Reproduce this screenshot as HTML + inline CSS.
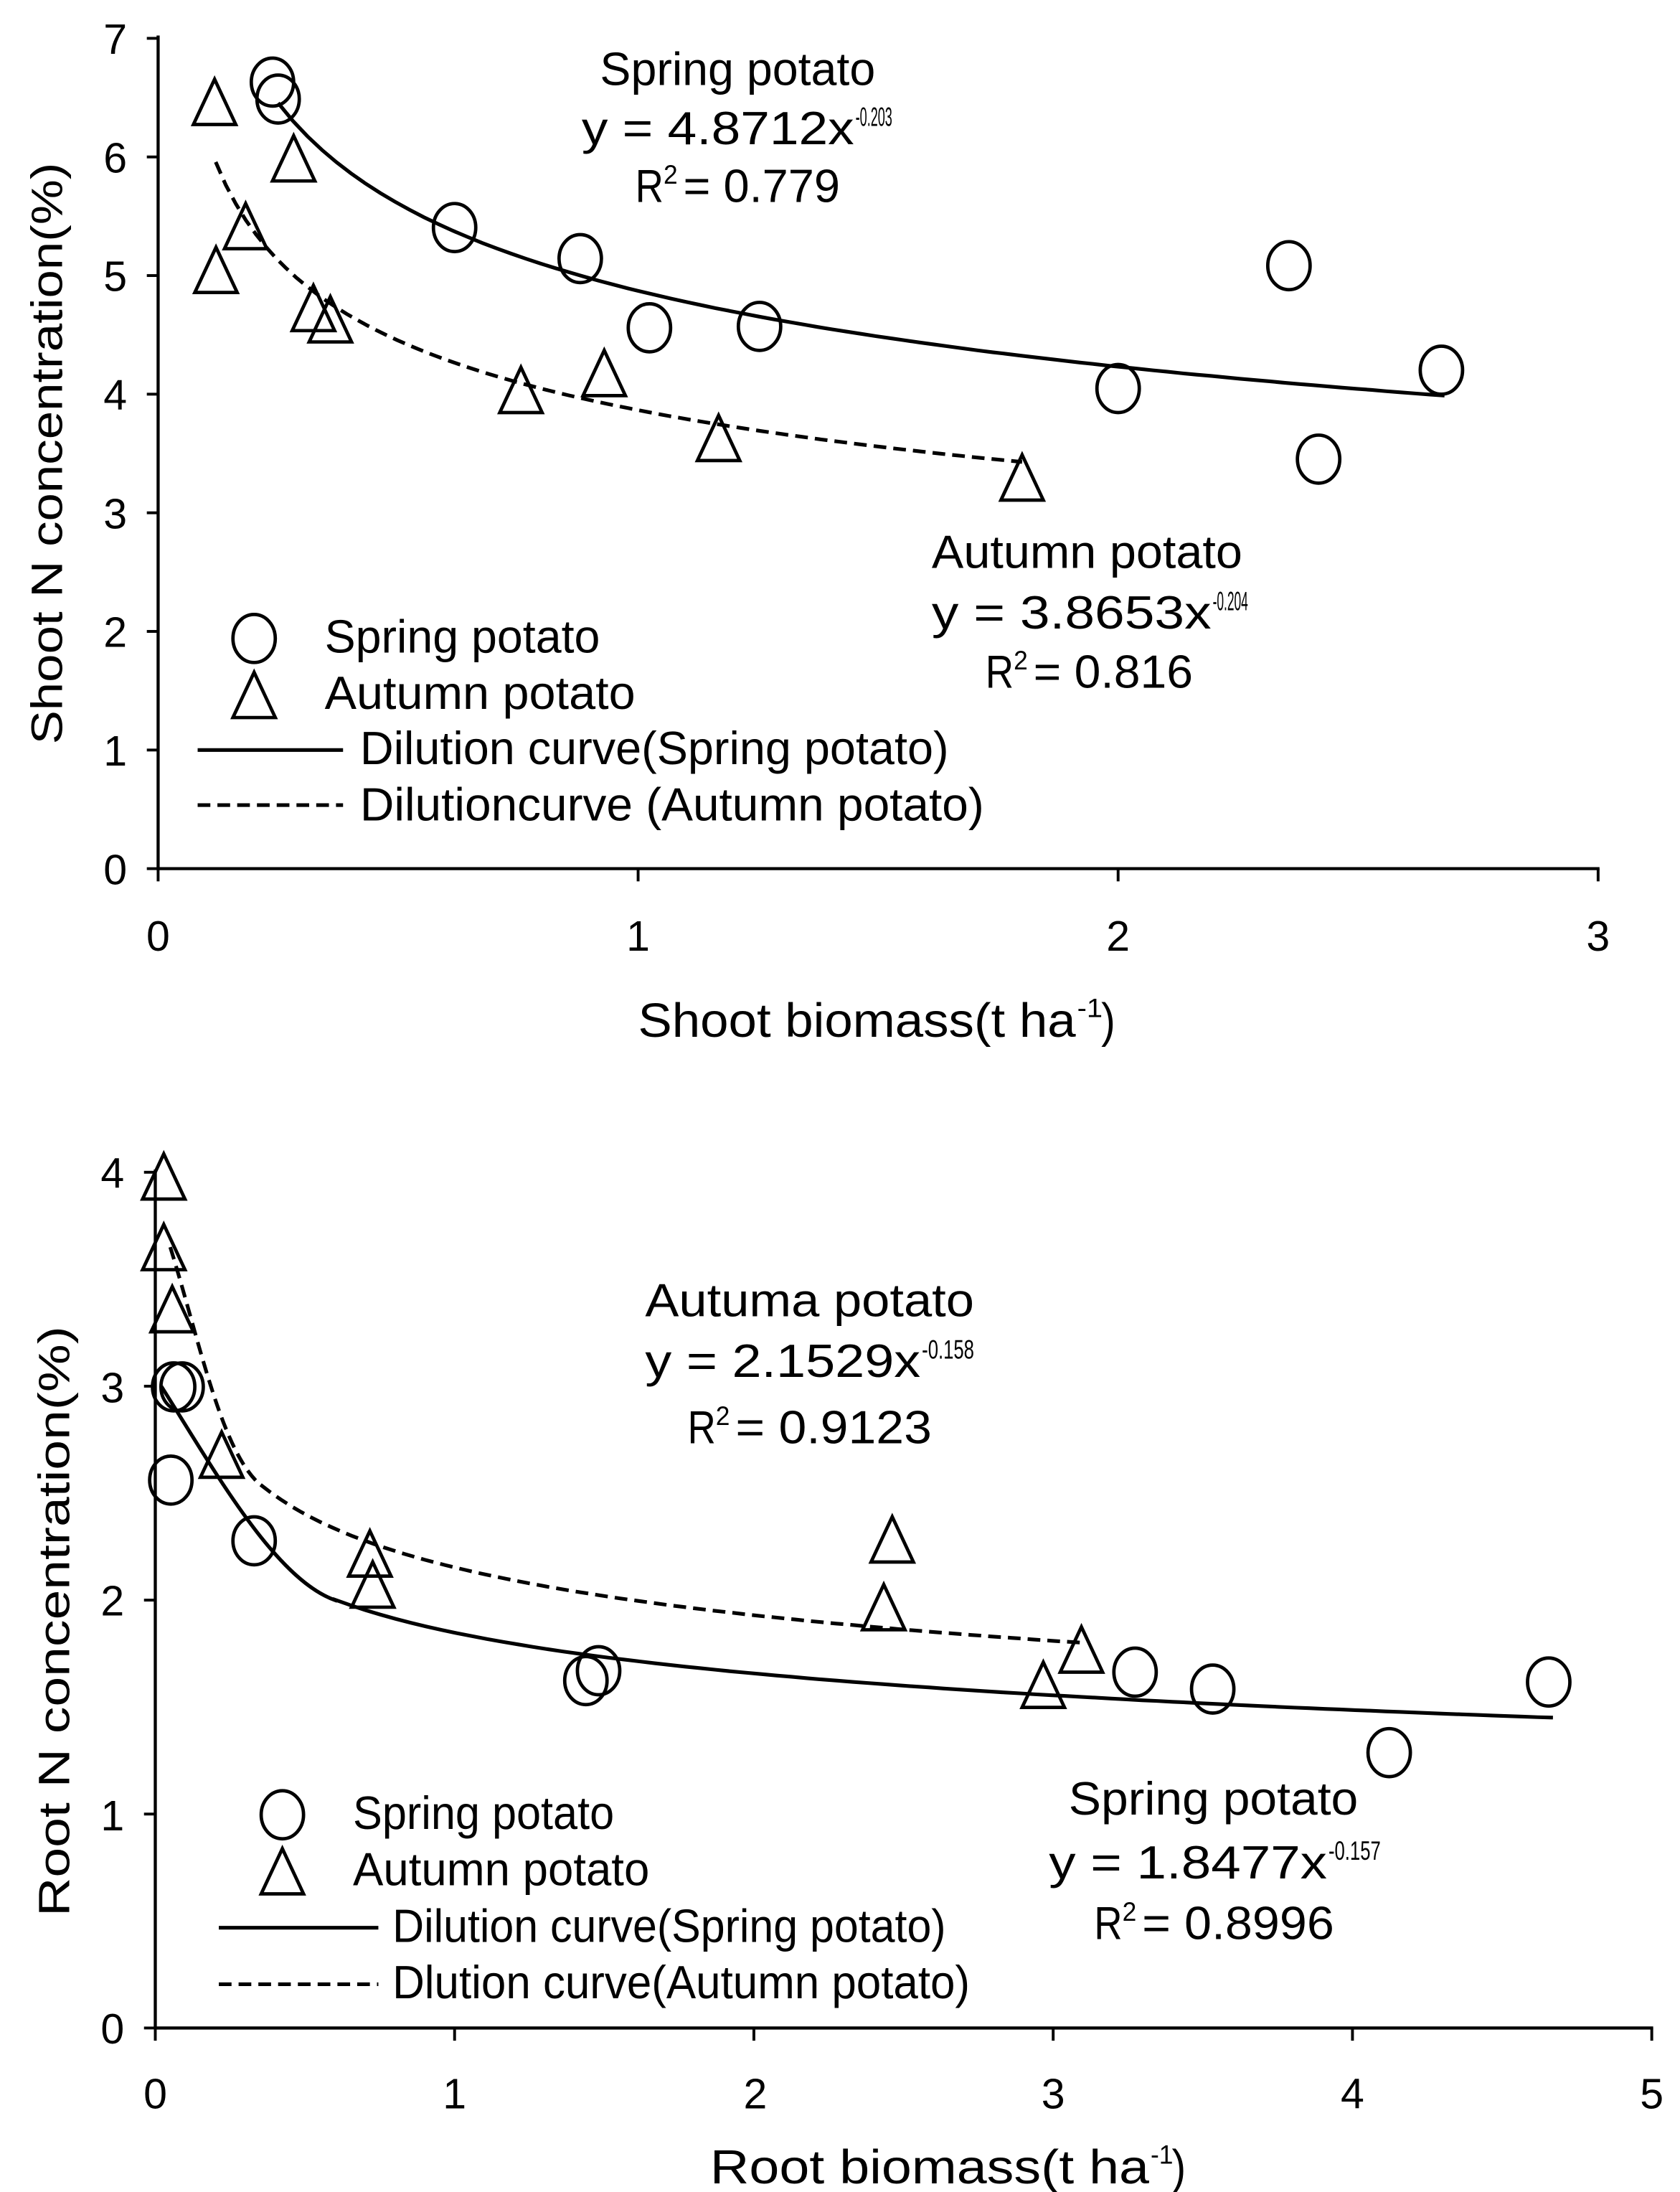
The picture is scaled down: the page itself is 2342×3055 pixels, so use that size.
<!DOCTYPE html>
<html><head><meta charset="utf-8"><style>
html,body{margin:0;padding:0;background:#fff}
svg{display:block}
text{font-family:"Liberation Sans",sans-serif;fill:#000}
</style></head><body>
<svg id="s" width="2342" height="3055" viewBox="0 0 1190 1552" xmlns="http://www.w3.org/2000/svg">
<g stroke="#000" stroke-width="2.2" fill="none">
<line x1="112" y1="25" x2="112" y2="616"/>
<line x1="111" y1="615" x2="1133" y2="615"/>
<line x1="110" y1="828" x2="110" y2="1437"/>
<line x1="109" y1="1436" x2="1171" y2="1436"/>
</g>
<g id="ticks" stroke="#000" stroke-width="2"></g>
<g font-size="30" lengthAdjust="spacingAndGlyphs">
<text x="90" y="38" text-anchor="end">7</text>
<text x="90" y="122" text-anchor="end">6</text>
<text x="90" y="206" text-anchor="end">5</text>
<text x="90" y="290" text-anchor="end">4</text>
<text x="90" y="374" text-anchor="end">3</text>
<text x="90" y="458" text-anchor="end">2</text>
<text x="90" y="542" text-anchor="end">1</text>
<text x="90" y="626" text-anchor="end">0</text>
<text x="112" y="673" text-anchor="middle">0</text>
<text x="452" y="673" text-anchor="middle">1</text>
<text x="792" y="673" text-anchor="middle">2</text>
<text x="1132" y="673" text-anchor="middle">3</text>
<text x="88" y="841" text-anchor="end">4</text>
<text x="88" y="993" text-anchor="end">3</text>
<text x="88" y="1144" text-anchor="end">2</text>
<text x="88" y="1296" text-anchor="end">1</text>
<text x="88" y="1447" text-anchor="end">0</text>
<text x="110" y="1493" text-anchor="middle">0</text>
<text x="322" y="1493" text-anchor="middle">1</text>
<text x="535" y="1493" text-anchor="middle">2</text>
<text x="746" y="1493" text-anchor="middle">3</text>
<text x="958" y="1493" text-anchor="middle">4</text>
<text x="1170" y="1493" text-anchor="middle">5</text>
</g>
<g font-size="34">
<text x="452" y="734" textLength="310" lengthAdjust="spacingAndGlyphs">Shoot biomass(t ha</text>
<text x="763" y="720" font-size="19" textLength="18" lengthAdjust="spacingAndGlyphs">-1</text>
<text x="780" y="734" textLength="10" lengthAdjust="spacingAndGlyphs">)</text>
<text x="503" y="1546" textLength="311" lengthAdjust="spacingAndGlyphs">Root biomass(t ha</text>
<text x="815" y="1532" font-size="19" textLength="16" lengthAdjust="spacingAndGlyphs">-1</text>
<text x="830" y="1546" textLength="10" lengthAdjust="spacingAndGlyphs">)</text>
</g>
<g font-size="31">
<text transform="translate(44,321) rotate(-90)" text-anchor="middle" textLength="412" lengthAdjust="spacingAndGlyphs">Shoot N concentration(%)</text>
<text transform="translate(49,1148) rotate(-90)" text-anchor="middle" textLength="418" lengthAdjust="spacingAndGlyphs">Root N concentration(%)</text>
</g>
<g id="lab" font-size="33"></g>
<g stroke="#000" stroke-width="2.6" fill="none">
<line x1="140" y1="531" x2="243" y2="531"/>
<line x1="140" y1="570" x2="243" y2="570" stroke-dasharray="9,5"/>
<line x1="155" y1="1365" x2="268" y2="1365"/>
<line x1="155" y1="1405" x2="268" y2="1405" stroke-dasharray="9,5"/>
<path id="c1"/><path id="c2" stroke-dasharray="9,5"/>
<path id="c3"/><path id="c4" stroke-dasharray="9,5"/>
</g>
<g id="m" stroke="#000" stroke-width="2.4" fill="none"></g>
</svg>
<script>
var NS="http://www.w3.org/2000/svg";
function el(t,a,p,txt){var e=document.createElementNS(NS,t);for(var k in a)e.setAttribute(k,a[k]);if(txt!==undefined)e.textContent=txt;document.getElementById(p).appendChild(e);return e;}
function T(x,y,w,s,fs){var a={x:x,y:y,textLength:w,lengthAdjust:'spacingAndGlyphs'};if(fs)a['font-size']=fs;el('text',a,'lab',s);}
// labels: [x1,x2,baseline,text]
[[425,620,60,'Spring potato'],[450,595,143,'R'],[660,880,402,'Autumn potato'],[457,690,932,'Autuma potato'],[757,962,1285,'Spring potato'],
 [230,425,462,'Spring potato'],[230,450,502,'Autumn potato'],[255,672,541,'Dilution curve(Spring potato)'],[255,697,581,'Dilutioncurve (Autumn potato)'],
 [250,435,1295,'Spring potato'],[250,460,1335,'Autumn potato'],[278,670,1375,'Dilution curve(Spring potato)'],[278,687,1415,'Dlution curve(Autumn potato)']
].forEach(function(a){if(a[3]!=='R')T(a[0],a[2],a[1]-a[0],a[3]);});
// equations
function eq(x,xe,xs,y,main,sup){T(x,y,xe-x,main);T(xe+1,y-13,xs-xe-1,sup,19);}
eq(412,605,632,102,'y = 4.8712x','-0.203');
eq(660,858,884,445,'y = 3.8653x','-0.204');
eq(457,652,690,975,'y = 2.1529x','-0.158');
eq(743,940,978,1330,'y = 1.8477x','-0.157');
function r2(x,xe,y,val){T(x,y,20,'R');T(x+20,y-13,10,'2',19);T(x+34,y,xe-x-34,'= '+val);}
r2(450,595,143,'0.779');
r2(698,845,487,'0.816');
r2(487,660,1022,'0.9123');
r2(775,945,1373,'0.8996');
for(var i=0;i<=7;i++){var y=615-84*i;el('line',{x1:104,y1:y,x2:112,y2:y},'ticks');}
for(var i=0;i<=3;i++){var x=112+340*i;el('line',{x1:x,y1:615,x2:x,y2:624},'ticks');}
for(var i=0;i<=4;i++){var y=1436-151.5*i;el('line',{x1:102,y1:y,x2:110,y2:y},'ticks');}
for(var i=0;i<=5;i++){var x=110+212*i;el('line',{x1:x,y1:1436,x2:x,y2:1445},'ticks');}
function circ(x,y){el('ellipse',{cx:x,cy:y,rx:15,ry:17},'m');}
function tri(x,y){el('path',{d:'M'+(x-15)+' '+(y+16)+'L'+x+' '+(y-16)+'L'+(x+15)+' '+(y+16)+'Z'},'m');}
[[193,58],[197,70],[322,161],[411,183],[460,232],[538,231],[913,188],[792,275],[934,325],[1021,262],[180,452],
 [123,982],[129,982],[121,1048],[180,1091],[415,1190],[424,1183],[804,1184],[859,1196],[984,1241],[1097,1191],[200,1285]].forEach(function(p){circ(p[0],p[1]);});
[[152,72],[208,112],[153,191],[174,160],[222,218],[234,226],[369,276],[428,264],[509,310],[724,338],[180,492],
 [116,833],[116,883],[122,927],[157,1030],[262,1100],[264,1122],[626,1138],[632,1090],[739,1193],[766,1168],[200,1325]].forEach(function(p){tri(p[0],p[1]);});
function pw(a,b,x0,x1,X,Y){var d='';for(var i=0;i<=80;i++){var x=x0+(x1-x0)*i/80;var y=a*Math.pow(x,b);d+=(i?'L':'M')+X(x).toFixed(1)+' '+Y(y).toFixed(1);}return d;}
var TX=function(x){return 112+340*x},TY=function(y){return 615-84*y};
document.getElementById('c1').setAttribute('d',pw(4.8712,-0.203,0.25,2.68,TX,TY));
document.getElementById('c2').setAttribute('d',pw(3.8653,-0.204,0.12,1.8,TX,TY));
var BX=function(x){return 110+212*x},BY=function(y){return 1436-151.5*y};
var d3='M'+BX(0.02)+' '+BY(3.0)+' C'+BX(0.2)+' '+BY(2.6)+' '+BX(0.4)+' '+BY(2.1)+' '+BX(0.6)+' '+BY(2.0)+pw(1.8477,-0.157,0.6,4.67,BX,BY).replace('M','L');
document.getElementById('c3').setAttribute('d',d3);
var d4='M'+BX(0.05)+' '+BY(3.65)+' C'+BX(0.15)+' '+BY(3.2)+' '+BX(0.22)+' '+BY(2.7)+' '+BX(0.35)+' '+BY(2.54)+pw(2.1529,-0.158,0.35,3.1,BX,BY).replace('M','L');
document.getElementById('c4').setAttribute('d',d4);
</script>
</body></html>
